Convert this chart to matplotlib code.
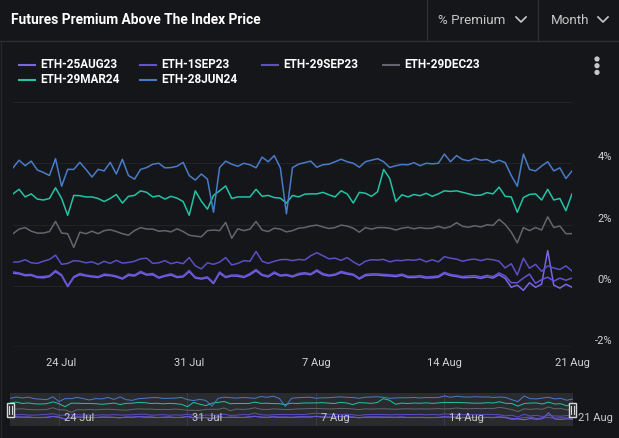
import matplotlib
matplotlib.use("Agg")
import matplotlib.pyplot as plt
import matplotlib.transforms as mtransforms
from matplotlib.patches import Rectangle, Circle
import pandas as pd

plt.rcParams['font.family'] = ['Roboto', 'DejaVu Sans']

W, H = 619, 438
BG = "#151619"

# 8-hourly points, 21 Jul 08:00 -> 21 Aug 00:00
dates = pd.date_range("2023-07-21 08:00", periods=93, freq="8h")

eth_25aug23 = [
    0.41, 0.39, 0.33, 0.34, 0.27, 0.26, 0.30, 0.46, 0.33, -0.03,
    0.27, 0.36, 0.32, 0.29, 0.27, 0.34, 0.33, 0.29, 0.22, 0.34,
    0.32, 0.43, 0.35, 0.36, 0.25, 0.31, 0.35, 0.27, 0.29, 0.46,
    0.25, 0.22, 0.26, 0.07, 0.41, 0.27, 0.32, 0.31, 0.27, 0.36,
    0.49, 0.34, 0.29, 0.41, 0.32, 0.34, 0.29, 0.36, 0.39, 0.36,
    0.48, 0.36, 0.32, 0.35, 0.43, 0.38, 0.35, 0.22, 0.33, 0.35,
    0.35, 0.33, 0.32, 0.30, 0.34, 0.27, 0.27, 0.29, 0.25, 0.26,
    0.28, 0.40, 0.33, 0.30, 0.26, 0.27, 0.28, 0.24, 0.29, 0.25,
    0.36, 0.24, -0.05, 0.02, -0.15, 0.10, -0.05, 0.05, 1.15, 0.02,
    -0.08, 0.05, -0.05]
eth_1sep23 = [
    0.45, 0.42, 0.36, 0.37, 0.30, 0.30, 0.33, 0.50, 0.36, 0.00,
    0.30, 0.40, 0.35, 0.32, 0.30, 0.38, 0.36, 0.32, 0.25, 0.38,
    0.35, 0.47, 0.38, 0.40, 0.28, 0.34, 0.39, 0.30, 0.32, 0.50,
    0.28, 0.25, 0.29, 0.10, 0.45, 0.30, 0.35, 0.35, 0.30, 0.40,
    0.53, 0.37, 0.32, 0.45, 0.35, 0.37, 0.32, 0.40, 0.43, 0.39,
    0.52, 0.40, 0.35, 0.38, 0.47, 0.42, 0.38, 0.25, 0.37, 0.39,
    0.39, 0.37, 0.36, 0.34, 0.38, 0.31, 0.31, 0.33, 0.29, 0.30,
    0.32, 0.44, 0.37, 0.34, 0.30, 0.32, 0.33, 0.29, 0.34, 0.30,
    0.42, 0.32, 0.10, 0.10, 0.25, 0.38, 0.08, 0.20, 0.28, 0.15,
    0.25, 0.18, 0.25]
eth_29sep23 = [
    0.77, 0.78, 0.85, 0.75, 0.73, 0.80, 0.86, 1.00, 0.70, 0.73,
    0.82, 0.80, 0.75, 0.78, 0.70, 0.80, 0.73, 0.83, 0.74, 0.76,
    0.80, 0.88, 0.90, 0.73, 0.75, 0.82, 0.72, 0.77, 0.72, 0.92,
    0.65, 0.55, 0.75, 0.70, 0.77, 0.92, 0.68, 0.73, 0.82, 0.80,
    1.12, 0.80, 0.73, 0.80, 0.85, 0.86, 0.82, 0.86, 0.84, 0.98,
    1.08, 0.98, 0.88, 0.90, 0.83, 0.92, 0.78, 0.67, 0.80, 0.85,
    0.84, 0.86, 0.78, 0.83, 0.82, 0.85, 0.83, 0.87, 0.78, 0.85,
    0.78, 0.95, 0.90, 0.87, 0.80, 0.85, 0.87, 0.82, 0.87, 0.85,
    0.80, 0.58, 0.72, 0.35, 0.90, 0.57, 0.70, 0.47, 0.65, 0.58,
    0.53, 0.65, 0.48]
eth_29dec23 = [
    1.70, 1.85, 1.90, 1.78, 1.72, 1.72, 1.77, 2.10, 1.72, 1.70,
    1.25, 1.75, 1.70, 1.78, 1.70, 1.80, 1.83, 1.77, 1.70, 1.65,
    1.80, 1.90, 1.85, 1.85, 1.78, 1.80, 1.76, 1.86, 1.77, 1.65,
    1.62, 1.60, 1.80, 1.82, 1.80, 2.07, 1.55, 1.86, 1.80, 1.85,
    2.10, 1.82, 1.77, 1.88, 1.85, 1.76, 1.80, 1.88, 1.90, 1.95,
    1.98, 1.92, 1.87, 1.90, 1.98, 1.95, 1.88, 1.75, 1.90, 1.85,
    1.90, 1.90, 1.88, 1.82, 1.88, 1.91, 1.86, 1.90, 1.87, 1.88,
    1.94, 1.88, 1.93, 2.06, 1.94, 1.91, 1.96, 1.92, 1.99, 1.97,
    2.17, 2.00, 1.75, 1.40, 1.90, 1.80, 1.90, 1.82, 2.25, 1.90,
    1.95, 1.70, 1.70]
eth_29mar24 = [
    3.00, 3.15, 2.90, 3.00, 2.83, 2.80, 2.85, 3.20, 2.85, 2.30,
    2.95, 2.94, 2.90, 2.90, 2.85, 2.75, 2.85, 2.98, 2.70, 2.92,
    2.95, 3.10, 3.05, 2.90, 2.94, 2.83, 2.92, 2.86, 2.75, 2.30,
    3.10, 2.76, 2.50, 2.95, 3.10, 3.26, 2.85, 2.90, 2.90, 2.90,
    3.15, 2.92, 2.95, 2.88, 2.86, 2.70, 2.95, 2.90, 2.99, 3.00,
    3.00, 3.05, 2.97, 2.90, 3.10, 3.00, 2.70, 3.05, 3.02, 2.92,
    3.07, 3.80, 3.50, 2.75, 2.97, 2.90, 2.98, 2.94, 3.02, 2.92,
    3.00, 3.10, 3.08, 3.10, 3.05, 3.00, 2.95, 2.96, 3.04, 3.00,
    3.22, 2.92, 2.90, 2.40, 2.88, 2.98, 3.00, 2.80, 3.15, 2.80,
    2.85, 2.45, 3.00]
eth_28jun24 = [
    3.85, 4.10, 3.92, 4.07, 3.78, 3.70, 3.60, 4.15, 3.25, 3.80,
    3.80, 4.03, 3.80, 3.55, 3.80, 3.75, 4.03, 3.65, 4.13, 3.60,
    3.48, 3.80, 3.86, 3.97, 4.00, 3.85, 3.86, 3.90, 4.03, 3.60,
    3.45, 3.65, 3.48, 2.40, 3.86, 4.07, 3.97, 3.90, 4.00, 3.95,
    3.85, 4.20, 4.05, 4.25, 3.85, 2.35, 3.86, 3.97, 4.02, 4.07,
    3.87, 3.95, 3.97, 4.05, 4.13, 4.05, 4.00, 3.87, 4.05, 4.10,
    4.15, 4.05, 3.86, 3.92, 3.96, 3.95, 4.02, 3.92, 4.00, 3.98,
    4.00, 4.30, 4.05, 4.25, 4.12, 4.08, 4.16, 4.10, 4.12, 4.02,
    4.10, 4.02, 3.60, 3.25, 4.30, 3.80, 3.75, 3.91, 4.05, 3.75,
    3.85, 3.50, 3.75]

series_names = ["ETH-25AUG23", "ETH-1SEP23", "ETH-29SEP23",
                "ETH-29DEC23", "ETH-29MAR24", "ETH-28JUN24"]
series_values = [eth_25aug23, eth_1sep23, eth_29sep23,
                 eth_29dec23, eth_29mar24, eth_28jun24]
series_colors = ["#7866e4", "#6650d4", "#5a4fc4",
                 "#62666c", "#22c3a6", "#4a7bc6"]

xtick_dates = pd.to_datetime(["2023-07-24", "2023-07-31", "2023-08-07",
                              "2023-08-14", "2023-08-21"])
xtick_labels = ["24 Jul", "31 Jul", "7 Aug", "14 Aug", "21 Aug"]
ytick_vals = [-2, 0, 2, 4]
ytick_labels = ["-2%", "0%", "2%", "4%"]


def box(l, t, r, b):
    # pixel box (from top-left) -> figure fraction rect
    return [l / W, 1 - b / H, (r - l) / W, (b - t) / H]


fig = plt.figure(figsize=(W / 100, H / 100), dpi=100, facecolor=BG)

# main chart
ax = fig.add_axes(box(13, 102, 572, 347))
ax.set_facecolor(BG)
for vals, col in zip(series_values, series_colors):
    ax.plot(dates, vals, color=col, lw=1.1, solid_joinstyle="round")
ax.set_xlim(dates[0], dates[-1])
ax.set_ylim(-2, 6)
ax.set_yticks([-2, 0, 2, 4, 6])
ax.yaxis.grid(True, color="#222327", lw=0.8)
ax.axhline(-2, color="#34353a", lw=1.0)
ax.tick_params(axis="y", length=0, labelleft=False)
for s in ax.spines.values():
    s.set_visible(False)
ax.set_xticks(xtick_dates)
ax.set_xticklabels(xtick_labels)
ax.tick_params(axis="x", length=0, pad=8, labelsize=8, labelcolor="#d2d2d2")
ylab_tr = ax.get_yaxis_transform() + mtransforms.ScaledTranslation(0, 0.06, fig.dpi_scale_trans)
for v, lbl in zip(ytick_vals, ytick_labels):
    ax.text(1.0716, v, lbl, transform=ylab_tr, ha="right", va="center",
            fontsize=8, color="#d2d2d2", clip_on=False)

# navigator
nav = fig.add_axes(box(10, 393, 573, 426))
nav.set_facecolor("#2a2b2f")
for vals, col in zip(series_values, series_colors):
    nav.plot(dates, vals, color=col, lw=0.7)
nav.set_xlim(dates[0], dates[-1])
nav.set_ylim(-1.3, 4.85)
nav.set_xticks([])
nav.set_yticks([])
for s in nav.spines.values():
    s.set_visible(False)
nav_tr = mtransforms.blended_transform_factory(nav.transData, nav.transAxes)
for d, lbl in zip(xtick_dates, xtick_labels):
    nav.axvline(d, color="#3d3e43", lw=0.7, zorder=0)
    nav.text(d, 0.23, lbl, transform=nav_tr + mtransforms.ScaledTranslation(0.05, 0, fig.dpi_scale_trans),
             ha="left", va="center", fontsize=8, color="#c8c8c8", clip_on=False)

# overlay in pixel coordinates
ov = fig.add_axes([0, 0, 1, 1], zorder=10)
ov.set_xlim(0, W)
ov.set_ylim(H, 0)
ov.axis("off")
ov.patch.set_alpha(0)

line_col = "#2e2f33"
ov.plot([0, W], [41, 41], color=line_col, lw=1)
ov.plot([427, 427], [0, 41], color=line_col, lw=1)
ov.plot([538, 538], [0, 41], color=line_col, lw=1)
ov.plot([0.5, 0.5], [41, H], color="#26272b", lw=1)

ov.text(11, 20, "Futures Premium Above The Index Price", fontsize=9.9,
        fontweight="bold", color="white", va="center", ha="left")
ov.text(438, 20, "% Premium", fontsize=9.6, color="#c8c8c8", va="center", ha="left")
ov.plot([516, 521, 526], [17, 22, 17], color="#c8c8c8", lw=1.2)
ov.text(551, 20, "Month", fontsize=9.6, color="#c8c8c8", va="center", ha="left")
ov.plot([598, 603, 608], [17, 22, 17], color="#c8c8c8", lw=1.2)

for yy in (59, 65.7, 72.4):
    ov.add_patch(Circle((597, yy), 1.9, color="#c8c8c8"))

# legend
leg_pos = [(19, 64.5), (140, 64.5), (262, 64.5), (383, 64.5), (19, 79.5), (140, 79.5)]
for (lx, ly), name, col in zip(leg_pos, series_names, series_colors):
    ov.plot([lx, lx + 16], [ly, ly], color=col, lw=1.5)
    ov.text(lx + 21, ly, name, fontsize=8.5, fontweight="bold", color="white",
            va="center", ha="left")

# navigator handles
for hx in (10.5, 572.5):
    ov.add_patch(Rectangle((hx - 3.8, 402.7), 7.6, 14.6, facecolor="#2a2b2f",
                           edgecolor="#d8d8d8", lw=1))
    ov.plot([hx - 1.2, hx - 1.2], [406, 414], color="#d8d8d8", lw=0.8)
    ov.plot([hx + 1.2, hx + 1.2], [406, 414], color="#d8d8d8", lw=0.8)

fig.savefig("out.png", dpi=100, facecolor=BG)
